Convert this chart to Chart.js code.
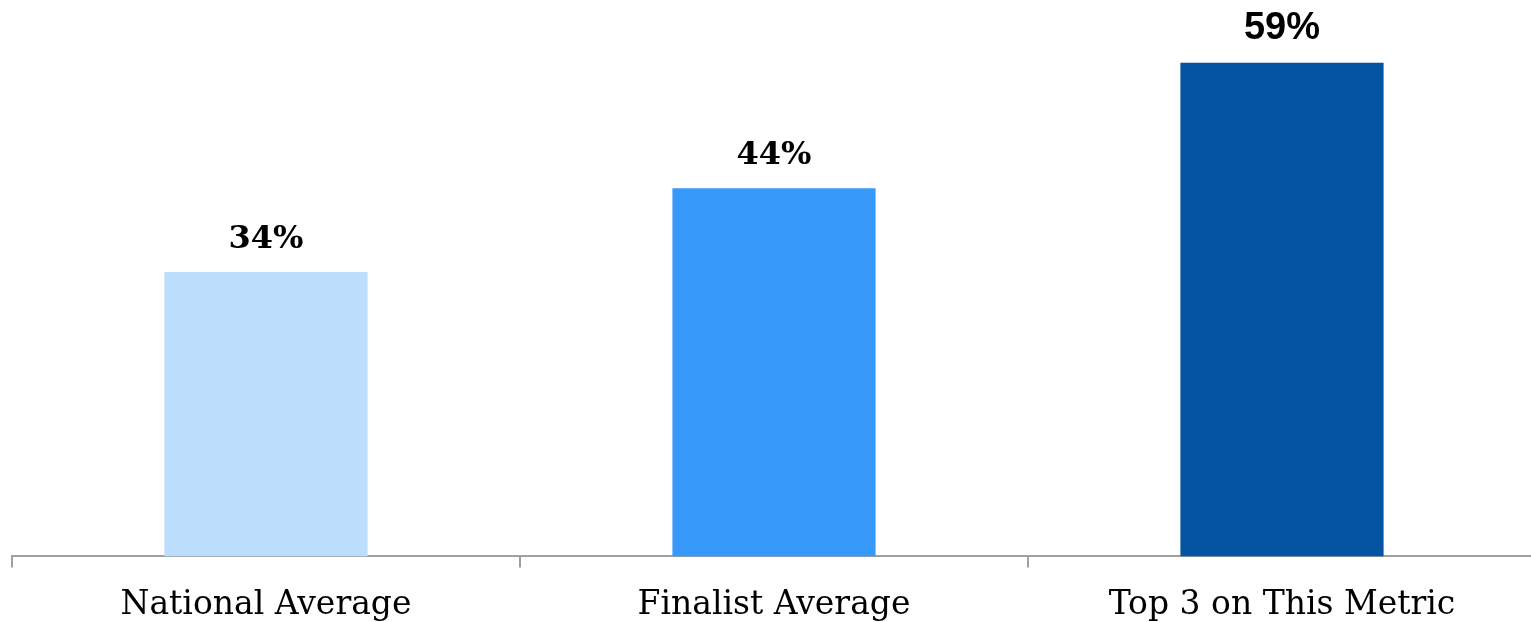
<!DOCTYPE html>
<html>
<head>
<meta charset="utf-8">
<script src="https://cdn.jsdelivr.net/npm/chart.js@4"></script>
<style>
  html, body { margin: 0; padding: 0; background: #fff; overflow: hidden; }
  #wrap { width: 1536px; height: 643px; }
</style>
</head>
<body>
<div id="wrap"><canvas id="bars"></canvas></div>
<script>
// categories and values (percent)
var categories = ["National Average", "Finalist Average", "Top 3 on This Metric"];
var shares = [34, 44, 59];
var barColors = ["#BDDDFC", "#3799FA", "#0455A1"];

// draws the "34%" labels above each bar
var topLabels = {
    id: 'topLabels',
    afterDatasetsDraw: function(chart) {
        var ctx = chart.ctx;
        var meta = chart.getDatasetMeta(0);
        ctx.save();
        ctx.fillStyle = '#000';
        ctx.textAlign = 'center';
        ctx.textBaseline = 'alphabetic';
        meta.data.forEach(function(bar, i) {
            ctx.font = i < 2 ? 'bold 32px "DejaVu Serif"' : 'bold 38px "Liberation Sans"';
            ctx.fillText(shares[i] + '%', bar.x, bar.y - 24);
        });
        ctx.restore();
    }
};

var ctx = document.getElementById("bars").getContext("2d");
new Chart(ctx, {
    type: 'bar',
    data: {
        labels: categories,
        datasets: [{
            data: shares,
            backgroundColor: barColors,
            categoryPercentage: 1,
            barPercentage: 0.4
        }]
    },
    options: {
        responsive: true,
        maintainAspectRatio: false,
        animation: false,
        layout: { padding: { left: 12, right: 0, top: 0, bottom: 0 } },
        plugins: {
            legend: { display: false },
            tooltip: { enabled: false }
        },
        scales: {
            y: {
                display: false,
                min: 0,
                max: 66.5
            },
            x: {
                border: { display: true, color: '#A0A0A0', width: 2 },
                grid: {
                    display: true,
                    drawOnChartArea: false,
                    drawTicks: true,
                    tickLength: 11,
                    color: '#A0A0A0',
                    lineWidth: 2
                },
                ticks: {
                    color: '#000',
                    padding: 18,
                    font: { family: '"DejaVu Serif"', size: 33 }
                }
            }
        }
    },
    plugins: [topLabels]
});
</script>
</body>
</html>
